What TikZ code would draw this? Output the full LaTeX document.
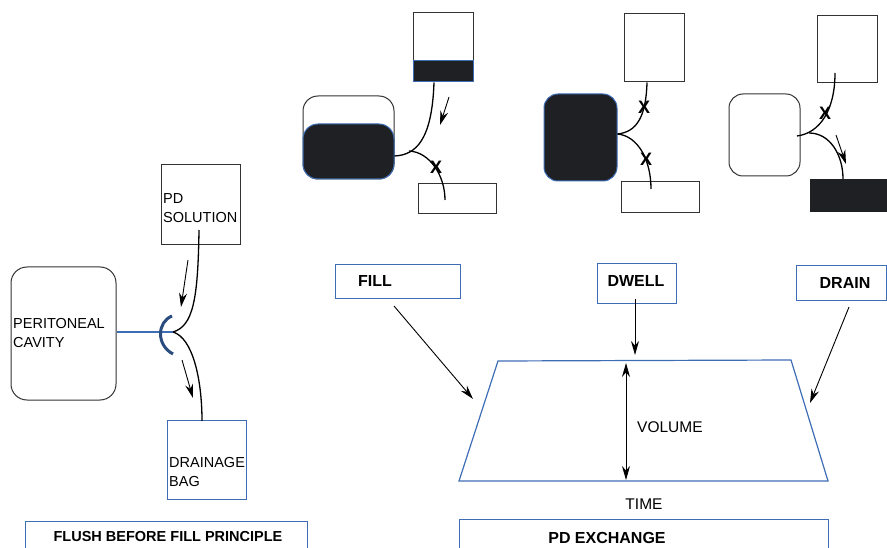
\documentclass[tikz,border=0pt]{standalone}
\usepackage{fontspec}
\setmainfont{Liberation Sans}
\usetikzlibrary{arrows.meta}

\definecolor{pdblue}{HTML}{3D6DB5}
\definecolor{pddark}{HTML}{1F2023}
\definecolor{boxgray}{HTML}{333333}

\tikzset{
  box/.style={draw=boxgray, line width=1pt, inner sep=0},
  bluebox/.style={draw=pdblue, line width=1pt, inner sep=0},
  cavity/.style={draw=boxgray, line width=1pt, inner sep=0, rounded corners=15pt},
  dialysate/.style={fill=pddark, draw=pdblue, line width=1pt, inner sep=0},
  tube/.style={draw=black, line width=1.3pt},
  flow/.style={-{Stealth[length=14pt,width=8pt]}, line width=0.9pt},
  lbl/.style={font=\fontsize{14.5}{19}\selectfont, align=left, inner sep=0},
  biglbl/.style={font=\fontsize{15.5}{19}\selectfont, inner sep=0},
  hdr/.style={font=\bfseries\fontsize{14.5}{17}\selectfont, inner sep=0},
  bighdr/.style={font=\bfseries\fontsize{16}{19}\selectfont, inner sep=0},
  clampx/.style={font=\bfseries\fontsize{18}{18}\selectfont, inner sep=0}
}

\begin{document}
\begin{tikzpicture}[x=1pt,y=-1pt]
\useasboundingbox (0,0) rectangle (887,548);

% flush before fill
\node[box, minimum width=79pt, minimum height=80pt] (sol) at (200.5,205) {};
\node[lbl, anchor=north west] (soltxt) at (163,193) {PD\\SOLUTION};
\node[cavity, rounded corners=16pt, minimum width=105pt, minimum height=133pt] (cav) at (63.5,333.5) {};
\node[lbl, anchor=north west] (cavtxt) at (13,318) {PERITONEAL\\CAVITY};
\node[bluebox, minimum width=79pt, minimum height=79pt] (bag) at (206.5,459.5) {};
\node[lbl, anchor=north west] (bagtxt) at (169,457) {DRAINAGE\\BAG};
\coordinate (junc) at (173,332);
\coordinate (solend) at (199,230);
\coordinate (bagend) at (202,421);
\draw[pdblue, line width=1.3pt] (cav.east |- junc) -- (junc);
\draw[pdblue!70!black, line width=3pt] (172,316) .. controls (157,322) and (156,345) .. (173,354);
\draw[tube] (solend) .. controls (198,300) and (193,326) .. (junc);
\draw[tube] (junc) .. controls (193,338) and (202,380) .. (bagend);
\draw[flow] (188,260) -- (181,307);
\draw[flow] (182,360) -- (193,398);
\node[bluebox, minimum width=282pt, minimum height=45pt] (flush) at (166,543.5) {};
\node[hdr, anchor=base] (flushtxt) at (168,541) {FLUSH BEFORE FILL PRINCIPLE};

% fill
\node[box, minimum width=60pt, minimum height=69pt] (fbag) at (443,47.5) {};
\node[dialysate, minimum width=60pt, minimum height=21pt] (fbagfill) at (443,71.5) {};
\node[cavity, minimum width=91pt, minimum height=83pt] (fcav) at (348.5,137.5) {};
\node[dialysate, rounded corners=15pt, minimum width=91pt, minimum height=55pt] (fcavfill) at (348.5,151.5) {};
\node[box, minimum width=78pt, minimum height=30pt] (fdrain) at (457,199) {};
\draw[tube] (fbag.south -| 434,0) .. controls (432,140) and (416,155) .. (fcav.east |- 0,156);
\draw[tube] (409,151) .. controls (430,152) and (445,176) .. (445,200);
\node[clampx] (fx) at (436,167) {X};
\draw[flow] (449,97) -- (440,125);

% dwell
\node[box, minimum width=60pt, minimum height=68pt] (dbag) at (654,48) {};
\node[dialysate, rounded corners=14pt, minimum width=73pt, minimum height=87pt] (dcav) at (580.5,137.5) {};
\node[box, minimum width=78pt, minimum height=31pt] (ddrain) at (660,197.5) {};
\draw[tube] (dbag.south -| 647,0) .. controls (646,118) and (636,132) .. (dcav.east |- 0,134);
\draw[tube] (dcav.east |- 0,134) .. controls (638,136) and (651,160) .. (651,189);
\node[clampx] (dx1) at (644,107) {X};
\node[clampx] (dx2) at (646,159) {X};

% drain
\node[box, minimum width=60pt, minimum height=67pt] (rbag) at (847,49.5) {};
\node[cavity, rounded corners=14pt, minimum width=71pt, minimum height=82pt] (rcav) at (764.5,135) {};
\node[fill=pddark, inner sep=0, minimum width=78pt, minimum height=33pt] (rdrain) at (849,195.5) {};
\draw[tube] (835,73) .. controls (835,110) and (820,133) .. (797,136);
\draw[tube] (809,133) .. controls (830,133) and (843,155) .. (rdrain.north -| 843,0);
\node[clampx] (rx) at (825,113) {X};
\draw[flow] (836,135) -- (846,164);

% pd exchange
\node[bluebox, minimum width=125pt, minimum height=34pt] (fillbox) at (397.5,282) {};
\node[bighdr, anchor=base west] (filltxt) at (358,287) {FILL};
\node[bluebox, minimum width=79pt, minimum height=40pt] (dwellbox) at (636.5,284) {};
\node[bighdr, anchor=base] (dwelltxt) at (636,287) {DWELL};
\node[bluebox, minimum width=90pt, minimum height=35pt] (drainbox) at (841.5,283.5) {};
\node[bighdr, anchor=base] (draintxt) at (845,289) {DRAIN};
\draw[pdblue, line width=1.2pt] (498,361) coordinate (tl) -- (791,360) coordinate (tr)
  -- (828,481) coordinate (br) -- (459,481) coordinate (bl) -- cycle;
\draw[flow] (394,306) -- (473,399);
\draw[flow] (635,299) -- (635,355);
\draw[flow] (849,307) -- (810,403);
\draw[{Stealth[length=14pt,width=8pt]}-{Stealth[length=14pt,width=8pt]}, line width=0.9pt] (626,363) -- (626,480);
\node[biglbl, anchor=base west] (voltxt) at (637,432) {VOLUME};
\node[biglbl, anchor=base] (timetxt) at (644,509) {TIME};
\node[bluebox, minimum width=369pt, minimum height=45pt] (pdx) at (643.5,541.5) {};
\node[bighdr, anchor=base] (pdxtxt) at (607,543) {PD EXCHANGE};
\end{tikzpicture}
\end{document}
